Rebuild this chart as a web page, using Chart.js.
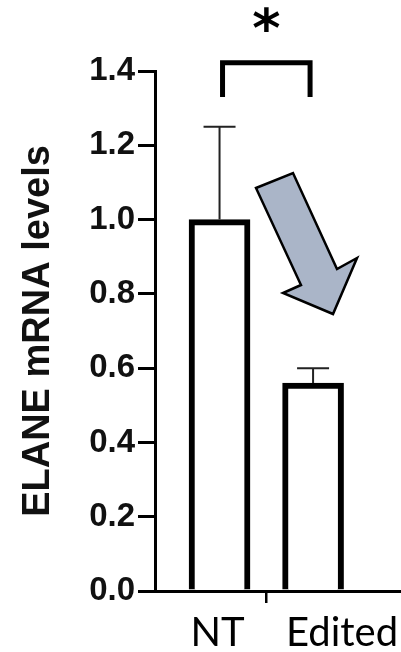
<!DOCTYPE html>
<html>
<head>
<meta charset="utf-8">
<script src="https://cdn.jsdelivr.net/npm/chart.js@4.4.1/dist/chart.umd.min.js"></script>
<style>
  body { margin: 0; background: #fff; }
  #wrap { width: 401px; height: 652px; }
</style>
</head>
<body>
<div id="wrap"><canvas id="elaneChart"></canvas></div>
<script>
const groups = ['NT', 'Edited'];
const meanLevels = [1.0, 0.56];
const errUpper = [0.25, 0.04];
const yTicks = [0, 0.2, 0.4, 0.6, 0.8, 1.0, 1.2, 1.4];

const labelShift = [-2, 29];   // x labels sit a bit off the bar centres in the figure

const extras = {
  id: 'extras',
  afterDatasetsDraw(chart) {
    const ctx = chart.ctx;
    const y = chart.scales.y;
    const bars = chart.getDatasetMeta(0).data;
    ctx.save();

    // error bars (upper only)
    ctx.strokeStyle = '#222';
    ctx.lineWidth = 2;
    bars.forEach((bar, i) => {
      const top = y.getPixelForValue(meanLevels[i] + errUpper[i]);
      ctx.beginPath();
      ctx.moveTo(bar.x, bar.y);
      ctx.lineTo(bar.x, top);
      ctx.moveTo(bar.x - 16, top);
      ctx.lineTo(bar.x + 16, top);
      ctx.stroke();
    });

    // significance bracket + star
    const bTop = y.getPixelForValue(1.422);
    const bLeg = y.getPixelForValue(1.33);
    const xl = bars[0].x + 3, xr = bars[1].x - 3;
    ctx.strokeStyle = '#000';
    ctx.lineWidth = 5;
    ctx.beginPath();
    ctx.moveTo(xl, bLeg);
    ctx.lineTo(xl, bTop);
    ctx.lineTo(xr, bTop);
    ctx.lineTo(xr, bLeg);
    ctx.stroke();
    ctx.fillStyle = '#000';
    ctx.font = 'bold 54px "DejaVu Sans"';
    ctx.textAlign = 'center';
    ctx.textBaseline = 'middle';
    ctx.fillText('*', (xl + xr) / 2, 33);

    // grey arrow
    const pts = [[256, 188], [293, 173], [337, 269], [357, 258], [333, 314], [283, 293], [301, 285]];
    ctx.beginPath();
    pts.forEach((p, i) => i ? ctx.lineTo(p[0], p[1]) : ctx.moveTo(p[0], p[1]));
    ctx.closePath();
    ctx.fillStyle = '#aab5c8';
    ctx.fill();
    ctx.lineWidth = 2.5;
    ctx.lineJoin = 'miter';
    ctx.stroke();

    // category labels
    ctx.fillStyle = '#000';
    ctx.font = '40px Lato';
    ctx.textBaseline = 'alphabetic';
    bars.forEach((bar, i) => {
      ctx.fillText(groups[i], bar.x + labelShift[i], 646);
    });
    ctx.restore();
  }
};

new Chart(document.getElementById('elaneChart'), {
  type: 'bar',
  data: {
    datasets: [{
      data: meanLevels.map((v, i) => ({ x: i, y: v })),
      backgroundColor: '#fff',
      borderColor: '#000',
      borderWidth: 6,
      barThickness: 61
    }]
  },
  options: {
    responsive: true,
    maintainAspectRatio: false,
    animation: false,
    layout: { padding: { top: 71, right: 0, bottom: 0, left: 0 } },
    plugins: { legend: { display: false }, tooltip: { enabled: false } },
    scales: {
      x: {
        type: 'linear',
        offset: false,
        min: -0.69,
        max: 1.94,
        afterBuildTicks: (axis) => { axis.ticks = [0, 0.5, 1].map(v => ({ value: v })); },
        afterFit: (scale) => { scale.height = 61; },
        ticks: { display: false },
        grid: {
          offset: false,
          drawOnChartArea: false,
          tickLength: 12,
          lineWidth: 2.5,
          color: (c) => (c.tick && c.tick.value === 0.5) ? '#000' : 'rgba(0,0,0,0)'
        },
        border: { color: '#000', width: 3 }
      },
      y: {
        min: 0,
        max: 1.4,
        afterBuildTicks: (axis) => { axis.ticks = yTicks.map(v => ({ value: v })); },
        afterFit: (scale) => { scale.width = 155; },
        ticks: {
          padding: 3,
          color: '#111',
          font: { family: '"Liberation Sans", Arial', weight: 'bold', size: 33 },
          callback: (v) => v.toFixed(1)
        },
        grid: { drawOnChartArea: false, tickLength: 17, lineWidth: 3, color: '#000' },
        border: { color: '#000', width: 3 },
        title: {
          display: true,
          text: 'ELANE mRNA levels',
          color: '#111',
          font: { family: '"Liberation Sans", Arial', weight: 'bold', size: 38 },
          padding: { top: 16, bottom: 0 }
        }
      }
    }
  },
  plugins: [extras]
});
</script>
</body>
</html>
